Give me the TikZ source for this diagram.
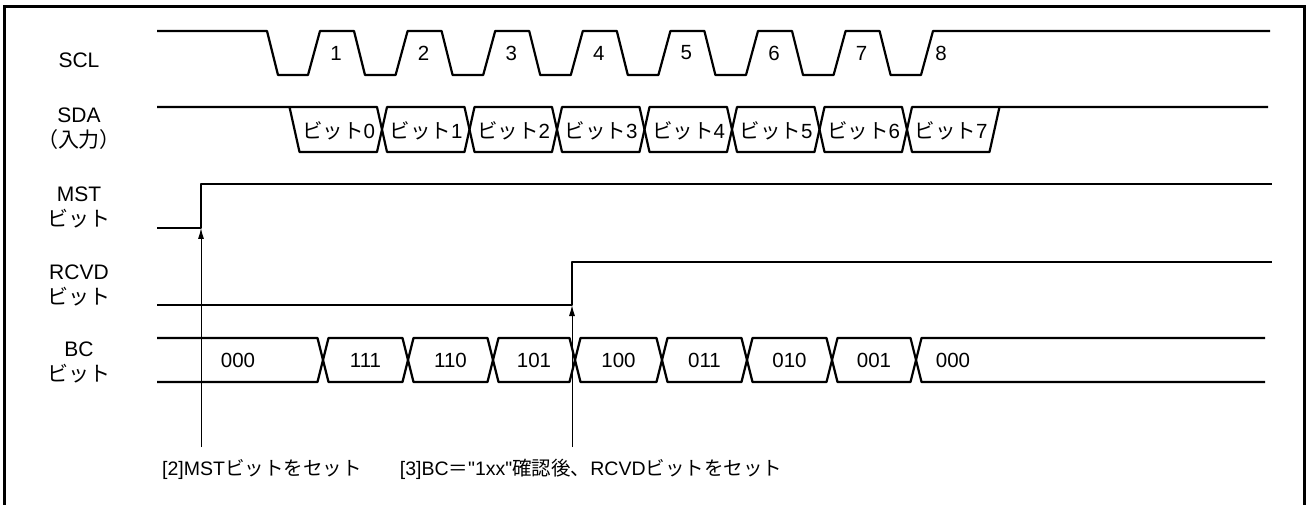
\documentclass[tikz,border=0pt]{standalone}
\usepackage{fontspec}
\setmainfont{Liberation Sans}
\newfontfamily\jp{Noto Sans CJK JP}
\newfontfamily\plainq{Liberation Sans}
\usetikzlibrary{arrows.meta,positioning}

\tikzset{
  sig/.style={line width=2.2pt, line join=round},
  lbl/.style={font=\fontsize{21}{25}\selectfont, align=center, inner sep=0pt},
  val/.style={font=\fontsize{20.5}{24}\selectfont, inner sep=0pt},
  note/.style={font=\fontsize{19.5}{23}\selectfont, inner sep=0pt},
  pointer/.style={line width=1pt, -{Latex[length=11pt,width=6pt]}}
}

\begin{document}
\begin{tikzpicture}[x=1pt,y=-1pt]
        \useasboundingbox (0,0) rectangle (1307,505);

        % frame, open at the bottom
        \draw[line width=3pt] (4,505) -- (4,7) -- (1304,7) -- (1304,505);

        % signal names
        \node[lbl] (scl) at (79,60) {SCL};
        \node[lbl] (sda) at (79,129) {SDA\\{\jp （入力）}};
        \node[lbl] (mst) at (79,207) {MST\\{\jp ビット}};
        \node[lbl] (rcvd) at (79,285) {RCVD\\{\jp ビット}};
        \node[lbl] (bc) at (79,362) {BC\\{\jp ビット}};

        % SCL: 8 clock pulses, period 87.6
        \draw[sig] (157,31) -- (267,31) -- (278,75)
          \foreach \k in {0,...,6} {
            -- ({308+87.6*\k},75) -- ({320+87.6*\k},31)
            -- ({354+87.6*\k},31) -- ({365+87.6*\k},75) }
          -- (921,75) -- (933,31) -- (1270,31);
        \foreach \k in {1,...,7}
          \node[val] (clk\k) at ({336+87.6*(\k-1)},53) {\k};
        \node[val] (clk8) at (941,53) {8};

        % SDA (input): bit cells between 294.5 and 994.5
        \draw[sig] (157,107) -- (377,107) -- (382,129.5) -- (377,152)
          -- (299.5,152) -- (289.5,107);
        \foreach \j in {1,...,6}
          \draw[sig] ({294.5+87.5*\j},129.5) -- ({299.5+87.5*\j},107)
            -- ({377+87.5*\j},107) -- ({382+87.5*\j},129.5)
            -- ({377+87.5*\j},152) -- ({299.5+87.5*\j},152) -- cycle;
        \draw[sig] (907,129.5) -- (912,107) -- (1268,107);
        \draw[sig] (907,129.5) -- (912,152) -- (989.5,152) -- (999.5,107);
        \foreach \j in {0,...,7}
          \node[val] (bit\j) at ({338.5+87.5*\j},131) {{\jp ビット}\j};

        % MST bit
        \coordinate (mstset) at (201,228);
        \draw[sig] (157,228) -- (mstset) -- (201,184) -- (1272,184);

        % RCVD bit
        \coordinate (rcvdset) at (572,305);
        \draw[sig] (157,305) -- (rcvdset) -- (572,262) -- (1272,262);

        % BC bits
        \draw[sig] (157,338) -- (317.5,338) -- (323,360) -- (317.5,382) -- (157,382);
        \foreach \a/\b in {323/408, 408/493, 493/575, 575/662, 662/747, 747/832, 832/916}
          \draw[sig] (\a,360) -- ({\a+5.5},338) -- ({\b-5.5},338) -- (\b,360)
            -- ({\b-5.5},382) -- ({\a+5.5},382) -- cycle;
        \draw[sig] (1265,338) -- (921.5,338) -- (916,360) -- (921.5,382) -- (1265,382);
        \foreach \x/\v [count=\i] in {238/000, 365.5/111, 450.5/110, 534/101, 618.5/100,
                                      704.5/011, 789.5/010, 874/001, 953/000}
          \node[val] (bcv\i) at (\x,360) {\v};

        % notes
        \node[note, anchor=west] (note2) at (162,469) {[2]MST{\jp ビットをセット}};
        \node[note, right=38pt of note2] (note3) {[3]BC{\jp ＝}{\plainq "1xx"}{\jp 確認後、}RCVD{\jp ビットをセット}};
        \coordinate (mstfoot) at (201,447);
        \coordinate (rcvdfoot) at (572,447);
        \draw[pointer] (mstfoot) -- (mstset);
        \draw[pointer] (rcvdfoot) -- (rcvdset);

    \end{tikzpicture}
\end{document}
